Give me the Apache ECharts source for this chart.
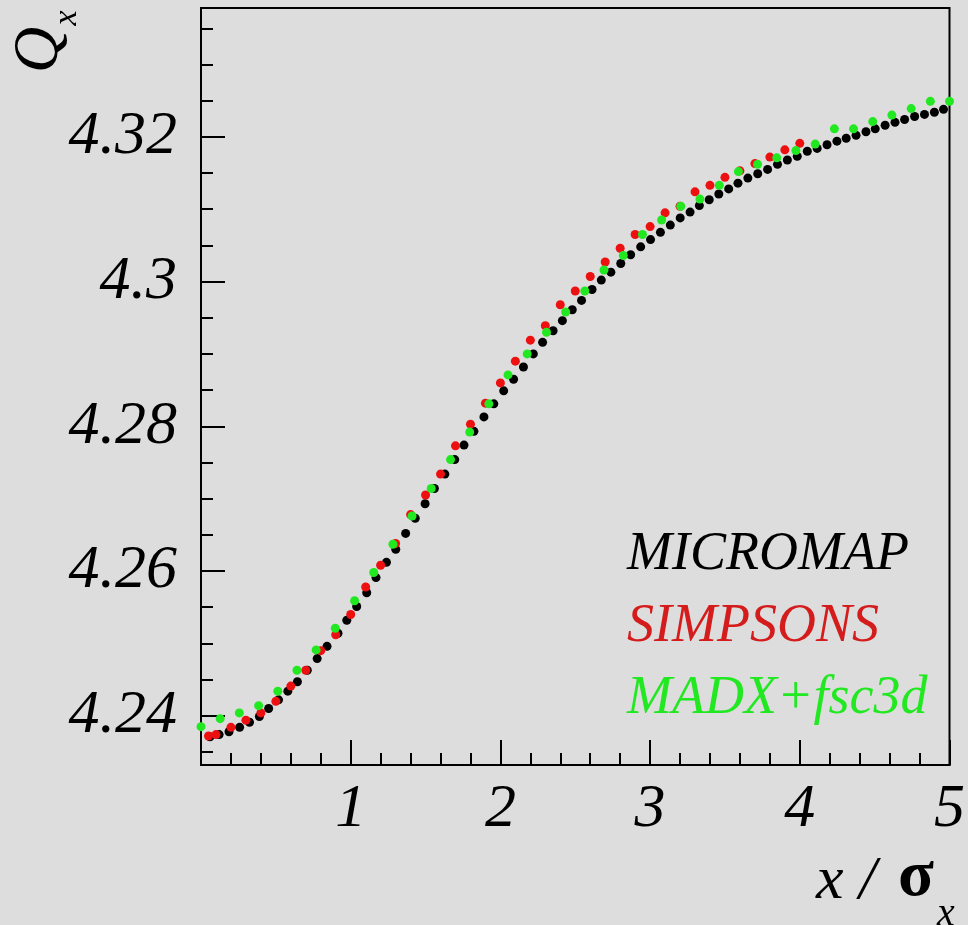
<!DOCTYPE html>
<html>
<head>
<meta charset="utf-8">
<script src="https://cdn.jsdelivr.net/npm/echarts@6/dist/echarts.min.js"></script>
<style>
html,body{margin:0;padding:0;background:#dddddd;}
#chart{width:968px;height:925px;}
</style>
</head>
<body>
<div id="chart"></div>
<script>
// tick labels
var xTickValues = [1, 2, 3, 4, 5];
var yTickValues = [4.24, 4.26, 4.28, 4.30, 4.32];
var yTickLabels = ['4.24', '4.26', '4.28', '4.3', '4.32'];
var yMinorValues = [4.235, 4.245, 4.25, 4.255, 4.265, 4.27, 4.275, 4.285, 4.29, 4.295, 4.305, 4.31, 4.315, 4.325, 4.33, 4.335];
var seriesNames = ['MICROMAP', 'SIMPSONS', 'MADX+fsc3d'];

// MICROMAP (black)
var micromapX = [0.060,0.121,0.187,0.258,0.324,0.390,0.452,0.518,0.580,0.644,
  0.710,0.776,0.842,0.915,0.974,1.040,1.107,1.169,1.239,1.301,
  1.367,1.431,1.497,1.559,1.629,1.695,1.757,1.823,1.890,1.956,
  2.022,2.088,2.154,2.220,2.282,2.352,2.414,2.480,2.542,2.612,
  2.674,2.738,2.804,2.870,2.937,3.003,3.069,3.135,3.201,3.267,
  3.329,3.395,3.459,3.525,3.587,3.653,3.719,3.785,3.851,3.917,
  3.983,4.050,4.116,4.182,4.248,4.310,4.376,4.442,4.504,4.570,
  4.636,4.700,4.767,4.833,4.899,4.960];
var micromapY = [4.2371,4.2374,4.2378,4.2384,4.2391,4.2399,4.2410,4.2422,4.2434,4.2447,
  4.2463,4.2479,4.2496,4.2514,4.2532,4.2551,4.2570,4.2591,4.2612,4.2630,
  4.2652,4.2673,4.2693,4.2714,4.2734,4.2754,4.2774,4.2793,4.2813,4.2831,
  4.2849,4.2865,4.2882,4.2900,4.2916,4.2932,4.2946,4.2961,4.2974,4.2989,
  4.3002,4.3013,4.3025,4.3037,4.3048,4.3058,4.3068,4.3078,4.3088,4.3096,
  4.3105,4.3113,4.3121,4.3128,4.3136,4.3143,4.3149,4.3155,4.3162,4.3168,
  4.3173,4.3180,4.3184,4.3189,4.3194,4.3198,4.3202,4.3207,4.3211,4.3216,
  4.3220,4.3224,4.3228,4.3231,4.3234,4.3238];

// SIMPSONS (red)
var simpsonsX = [0.05,0.1,0.2,0.3,0.4,0.5,0.6,0.7,0.8,0.9,
  1.0,1.1,1.2,1.3,1.4,1.5,1.6,1.7,1.8,1.9,
  2.0,2.1,2.2,2.3,2.4,2.5,2.6,2.7,2.8,2.9,
  3.0,3.1,3.2,3.3,3.4,3.5,3.6,3.7,3.8,3.9,4.0];
var simpsonsY = [4.2372,4.2374,4.2384,4.2394,4.2404,4.2420,4.2441,4.2463,4.2490,4.2512,
  4.2540,4.2578,4.2608,4.2638,4.2678,4.2705,4.2734,4.2773,4.2803,4.2832,
  4.2860,4.2890,4.2919,4.2939,4.2968,4.2987,4.3007,4.3027,4.3046,4.3065,
  4.3076,4.3095,4.3104,4.3124,4.3133,4.3144,4.3153,4.3163,4.3172,4.3182,4.3191];

// MADX+fsc3d (green)
var madxX = [0.000,0.128,0.256,0.385,0.513,0.641,0.769,0.897,1.026,1.154,
  1.282,1.410,1.538,1.667,1.795,1.923,2.051,2.179,2.308,2.436,
  2.564,2.692,2.821,2.949,3.077,3.205,3.333,3.462,3.590,3.718,
  3.846,3.974,4.103,4.231,4.359,4.487,4.615,4.744,4.872,5.000];
var madxY = [4.2385,4.2396,4.2404,4.2414,4.2434,4.2463,4.2491,4.2521,4.2559,4.2598,
  4.2637,4.2676,4.2714,4.2754,4.2792,4.2831,4.2871,4.2900,4.2930,4.2958,
  4.2987,4.3016,4.3036,4.3065,4.3085,4.3104,4.3114,4.3133,4.3152,4.3162,
  4.3171,4.3181,4.3190,4.3211,4.3211,4.3221,4.3230,4.3239,4.3249,4.3249];

var colors = ['#000000', '#ec1010', '#22e822'];
var serif = "'Liberation Serif', 'DejaVu Serif', serif";

function zip(xs, ys) {
  var out = [];
  for (var i = 0; i < xs.length; i++) out.push([xs[i], ys[i]]);
  return out;
}

var myChart = echarts.init(document.getElementById('chart'));

var option = {
  backgroundColor: '#dddddd',
  animation: false,
  grid: {
    left: 201, top: 8, right: 10, bottom: 160,
    show: true, borderColor: '#000', borderWidth: 2
  },
  legend: {
    orient: 'vertical',
    left: 617, top: 523,
    itemWidth: 0, itemHeight: 0, itemGap: 18,
    icon: 'circle',
    selectedMode: false,
    textStyle: {fontFamily: serif, fontStyle: 'italic', fontSize: 54},
    data: [
      {name: seriesNames[0], textStyle: {color: colors[0]}},
      {name: seriesNames[1], textStyle: {color: '#d41c1c'}},
      {name: seriesNames[2], textStyle: {color: colors[2]}}
    ]
  },
  xAxis: {
    type: 'value', min: 0, max: 5, interval: 1,
    axisLine: {show: true, lineStyle: {color: '#000', width: 2}},
    axisTick: {show: true, inside: true, length: 25, lineStyle: {color: '#000', width: 2}},
    minorTick: {show: true, splitNumber: 5, length: 12, lineStyle: {color: '#000', width: 2}},
    splitLine: {show: false},
    axisLabel: {
      customValues: xTickValues,
      margin: 14,
      color: '#000', fontFamily: serif, fontStyle: 'italic', fontSize: 62
    }
  },
  yAxis: [{
    type: 'value', min: 4.2332, max: 4.3378,
    axisLine: {show: true, lineStyle: {color: '#000', width: 2}},
    axisTick: {show: true, inside: true, length: 24, customValues: yTickValues,
      lineStyle: {color: '#000', width: 2}},
    splitLine: {show: false},
    axisLabel: {
      customValues: yTickValues,
      margin: 24,
      color: '#000', fontFamily: serif, fontStyle: 'italic', fontSize: 62,
      formatter: function (v) {
        for (var i = 0; i < yTickValues.length; i++) {
          if (Math.abs(v - yTickValues[i]) < 1e-6) return yTickLabels[i];
        }
        return '';
      }
    }
  }, {
    type: 'value', min: 4.2332, max: 4.3378, position: 'left',
    axisLine: {show: false},
    axisTick: {show: true, inside: true, length: 12, customValues: yMinorValues,
      lineStyle: {color: '#000', width: 2}},
    splitLine: {show: false},
    axisLabel: {show: false}
  }],
  graphic: [
    {type: 'text', x: 40, y: 50, rotation: Math.PI / 2,
      style: {text: 'Q', font: 'italic 64px ' + serif, fill: '#000', align: 'center', verticalAlign: 'middle'}},
    {type: 'text', x: 67, y: 18, rotation: Math.PI / 2,
      style: {text: 'x', font: 'italic 34px ' + serif, fill: '#000', align: 'center', verticalAlign: 'middle'}},
    {type: 'text', x: 816, y: 882,
      style: {text: 'x /', font: 'italic 62px ' + serif, fill: '#000', align: 'left', verticalAlign: 'middle'}},
    {type: 'text', x: 898, y: 878,
      style: {text: 'σ', font: 'bold 66px ' + serif, fill: '#000', align: 'left', verticalAlign: 'middle'}},
    {type: 'text', x: 937, y: 914,
      style: {text: 'x', font: 'italic 40px ' + serif, fill: '#000', align: 'left', verticalAlign: 'middle'}}
  ],
  series: [
    {name: seriesNames[0], type: 'scatter', symbolSize: 9, itemStyle: {color: colors[0], opacity: 1},
      data: zip(micromapX, micromapY), z: 2},
    {name: seriesNames[1], type: 'scatter', symbolSize: 9, itemStyle: {color: colors[1], opacity: 1},
      data: zip(simpsonsX, simpsonsY), z: 3},
    {name: seriesNames[2], type: 'scatter', symbolSize: 9, itemStyle: {color: colors[2], opacity: 1},
      data: zip(madxX, madxY), z: 4}
  ]
};

myChart.setOption(option);
</script>
</body>
</html>
